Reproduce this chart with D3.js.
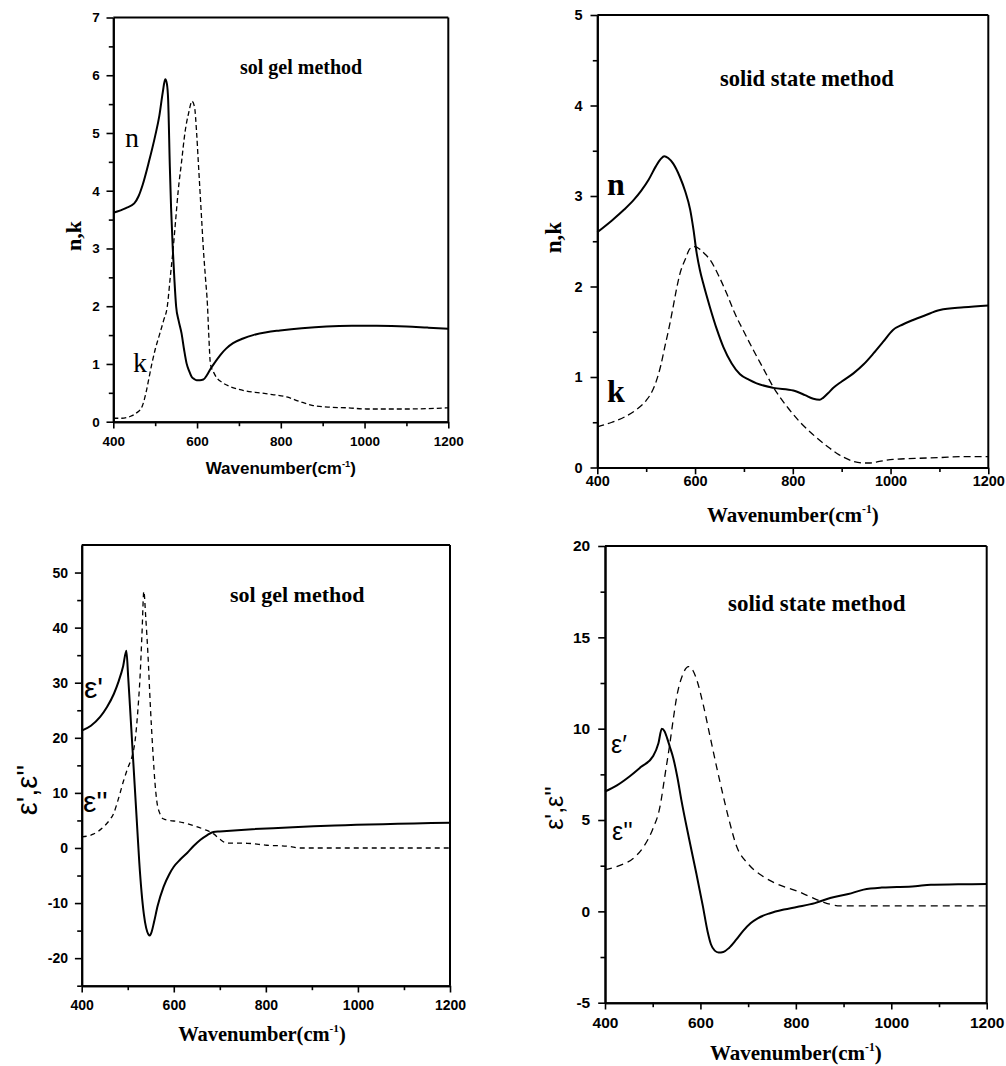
<!DOCTYPE html>
<html>
<head>
<meta charset="utf-8">
<script src="https://cdn.jsdelivr.net/npm/d3@7"></script>
<style>
  body { margin: 0; background: #fff; }
  svg { display: block; }
</style>
</head>
<body>
<svg id="chart" width="1006" height="1066"></svg>
<script>
// ---------- shared axis values ----------
const xTicks = [400, 600, 800, 1000, 1200];
const xMinor = [500, 700, 900, 1100];

// ---------- top left : sol gel, n and k ----------
const sgNWave = [400, 430, 450, 460, 470, 485, 500, 510, 518, 524, 528, 531, 535, 538, 542, 546, 550, 556, 563, 569, 575, 581, 587, 593, 599, 607, 615, 623, 631, 643, 655, 670, 686, 710, 734, 766, 798, 850, 909, 970, 1029, 1100, 1150, 1200];
const sgN = [3.62, 3.7, 3.78, 3.9, 4.1, 4.5, 4.95, 5.3, 5.7, 5.93, 5.85, 5.57, 4.42, 3.7, 3.0, 2.45, 2.0, 1.75, 1.53, 1.25, 1.01, 0.88, 0.78, 0.74, 0.72, 0.72, 0.73, 0.8, 0.9, 1.03, 1.15, 1.27, 1.36, 1.44, 1.5, 1.55, 1.58, 1.62, 1.65, 1.66, 1.66, 1.65, 1.63, 1.61];
const sgKWave = [400, 420, 440, 455, 468, 478, 485, 492, 500, 510, 520, 529, 536, 543, 549, 555, 563, 571, 580, 588, 594, 599, 603, 607, 611, 615, 620, 625, 628, 632, 640, 647, 660, 678, 700, 718, 750, 780, 814, 845, 877, 920, 960, 1005, 1100, 1200];
const sgK = [0.06, 0.06, 0.09, 0.15, 0.25, 0.5, 0.75, 1.0, 1.25, 1.5, 1.75, 2.0, 2.5, 3.0, 3.5, 4.0, 4.5, 5.0, 5.35, 5.55, 5.45, 5.0, 4.5, 4.0, 3.5, 3.0, 2.5, 2.0, 1.5, 1.0, 0.85, 0.76, 0.68, 0.61, 0.56, 0.53, 0.5, 0.47, 0.43, 0.35, 0.28, 0.25, 0.24, 0.22, 0.22, 0.24];
const nkTicksSG = [0, 1, 2, 3, 4, 5, 6, 7];
const nkMinorSG = [0.5, 1.5, 2.5, 3.5, 4.5, 5.5, 6.5];

// ---------- top right : solid state, n and k ----------
const ssNWave = [400, 430, 455, 475, 490, 505, 520, 530, 537, 545, 555, 569, 580, 590, 597, 603, 610, 617, 630, 645, 658, 675, 692, 710, 726, 760, 801, 825, 842, 855, 862, 872, 883, 900, 924, 945, 965, 985, 1005, 1025, 1046, 1070, 1101, 1150, 1200];
const ssN = [2.6, 2.73, 2.85, 2.96, 3.06, 3.18, 3.33, 3.41, 3.44, 3.42, 3.36, 3.21, 3.05, 2.85, 2.62, 2.38, 2.18, 2.03, 1.78, 1.52, 1.33, 1.15, 1.03, 0.97, 0.93, 0.88, 0.85, 0.8, 0.76, 0.75, 0.77, 0.82, 0.88, 0.95, 1.04, 1.14, 1.26, 1.39, 1.52, 1.58, 1.63, 1.68, 1.74, 1.77, 1.79];
const ssKWave = [400, 430, 460, 480, 500, 512, 521, 530, 538, 547, 555, 562, 569, 580, 590, 600, 610, 620, 630, 650, 665, 680, 700, 720, 740, 760, 790, 815, 840, 869, 895, 923, 945, 958, 980, 1005, 1050, 1101, 1150, 1200];
const ssK = [0.45, 0.5, 0.57, 0.64, 0.74, 0.84, 0.96, 1.13, 1.33, 1.55, 1.77, 1.97, 2.14, 2.3, 2.42, 2.44, 2.41, 2.36, 2.3, 2.1, 1.92, 1.72, 1.5, 1.29, 1.09, 0.89, 0.66, 0.5, 0.37, 0.24, 0.14, 0.07, 0.05, 0.05, 0.07, 0.09, 0.1, 0.11, 0.12, 0.12];
const nkTicksSS = [0, 1, 2, 3, 4, 5];
const nkMinorSS = [0.5, 1.5, 2.5, 3.5, 4.5];

// ---------- bottom left : sol gel, eps' and eps'' ----------
const sgE1Wave = [400, 420, 440, 455, 470, 480, 490, 497, 501, 505, 510, 515, 520, 525, 530, 535, 540, 545, 548, 552, 557, 565, 578, 590, 600, 614, 629, 643, 658, 672, 686, 700, 1200];
const sgE1 = [21.3, 22.2, 23.8, 25.6, 28, 30.2, 33, 35.8, 31, 25.5, 18.5, 11.5, 4.5, -2.5, -8, -12, -14.5, -15.7, -15.9, -15.2, -13.5, -10.5, -7, -4.8, -3.4, -2.1, -0.9, 0.35, 1.5, 2.3, 2.9, 3.0, 4.6];
const sgE2Wave = [400, 425, 447, 460, 469, 480, 491, 500, 509, 516, 522, 527, 531, 535, 539, 544, 549, 555, 559, 563, 570, 577, 590, 600, 620, 642, 665, 686, 700, 715, 760, 802, 850, 874, 900, 1200];
const sgE2 = [2.0, 2.5, 3.8, 5.0, 6.2, 9.0, 12.2, 14.5, 16.5, 19.5, 25, 31.5, 39, 46.6, 42, 35, 26, 17, 12, 8.6, 6.2, 5.3, 5.0, 4.9, 4.6, 4.1, 3.4, 2.6, 1.6, 0.9, 0.85, 0.5, 0.3, 0.0, 0.0, 0.0];
const epsTicksSG = [-20, -10, 0, 10, 20, 30, 40, 50];
const epsMinorSG = [-25, -15, -5, 5, 15, 25, 35, 45];

// ---------- bottom right : solid state, eps' and eps'' ----------
const ssE1Wave = [400, 425, 452, 475, 501, 512, 519, 525, 530, 536, 543, 552, 560, 576, 592, 605, 615, 622, 630, 638, 648, 660, 675, 690, 705, 720, 746, 775, 802, 840, 872, 910, 942, 980, 1012, 1050, 1083, 1140, 1200];
const ssE1 = [6.56, 6.9, 7.4, 7.9, 8.5, 9.2, 10, 9.85, 9.5, 9.0, 8.4, 7.3, 6.1, 4.0, 2.0, 0.3, -1.1, -1.8, -2.15, -2.25, -2.22, -2.0, -1.55, -1.05, -0.65, -0.38, -0.1, 0.1, 0.24, 0.45, 0.73, 0.95, 1.19, 1.3, 1.33, 1.38, 1.46, 1.48, 1.5];
const ssE2Wave = [400, 430, 459, 480, 500, 515, 526, 536, 543, 550, 562, 575, 584, 592, 606, 620, 634, 648, 660, 676, 700, 732, 765, 802, 830, 858, 893, 950, 1000, 1100, 1200];
const ssE2 = [2.28, 2.5, 2.9, 3.5, 4.5, 5.7, 7.5, 9.2, 10.5, 11.7, 12.9, 13.4, 13.2, 12.7, 11.3, 9.6, 7.9, 6.3, 5.0, 3.55, 2.6, 1.9, 1.45, 1.12, 0.8, 0.5, 0.3, 0.3, 0.3, 0.3, 0.3];
const epsTicksSS = [-5, 0, 5, 10, 15, 20];
const epsMinorSS = [-2.5, 2.5, 7.5, 12.5, 17.5];

// ---------- fonts ----------
const SANS = "'Liberation Sans', Arial, sans-serif";
const SERIF = "'Liberation Serif', 'Times New Roman', serif";

const zip = (xs, ys) => xs.map((v, i) => [v, ys[i]]);

const panels = [
  {
    box: { l: 113.3, r: 448.3, t: 17.5, b: 421.7 },
    yDomain: [0, 7], yTicks: nkTicksSG, yMinor: nkMinorSG,
    tickFont: 13.5, xPad: 7.5, yPad: 6.7,
    series: [
      { data: zip(sgNWave, sgN), width: 2, dash: null },
      { data: zip(sgKWave, sgK), width: 1.3, dash: "5,3" }
    ],
    method: { text: "sol gel method", x: 240, y: 74, size: 20 },
    xTitle: { font: SANS, size: 17, x: 280.8, y: 474 },
    yTitle: { text: "n,k", font: SERIF, weight: "bold", size: 22, x: 81, y: 236 },
    labels: [
      { text: "n", x: 125, y: 147, size: 28, font: SERIF, weight: "normal" },
      { text: "k", x: 133, y: 372, size: 28, font: SERIF, weight: "normal" }
    ]
  },
  {
    box: { l: 597.3, r: 988.3, t: 15, b: 467.5 },
    yDomain: [0, 5], yTicks: nkTicksSS, yMinor: nkMinorSS,
    tickFont: 14.5, xPad: 1.5, yPad: 8,
    series: [
      { data: zip(ssNWave, ssN), width: 2, dash: null },
      { data: zip(ssKWave, ssK), width: 1.3, dash: "7,4" }
    ],
    method: { text: "solid state method", x: 720, y: 86, size: 22.5 },
    xTitle: { font: SERIF, size: 21, x: 792.8, y: 522 },
    yTitle: { text: "n,k", font: SERIF, weight: "bold", size: 23, x: 561, y: 237.5 },
    labels: [
      { text: "n", x: 607, y: 195, size: 32, font: SERIF, weight: "bold" },
      { text: "k", x: 607, y: 402, size: 32, font: SERIF, weight: "bold" }
    ]
  },
  {
    box: { l: 81.7, r: 450, t: 545, b: 985.7 },
    yDomain: [-25, 55], yTicks: epsTicksSG, yMinor: epsMinorSG,
    tickFont: 14, xPad: 7.5, yPad: 6.8,
    series: [
      { data: zip(sgE1Wave, sgE1), width: 2, dash: null },
      { data: zip(sgE2Wave, sgE2), width: 1.3, dash: "5,4" }
    ],
    method: { text: "sol gel method", x: 230, y: 602, size: 22 },
    xTitle: { font: SERIF, size: 20.5, x: 262, y: 1041 },
    yTitle: { text: "ε',ε''", font: SANS, weight: "normal", size: 29, x: 36.5, y: 790 },
    labels: [
      { text: "ε'", x: 84, y: 698, size: 30, font: SANS, weight: "normal" },
      { text: "ε''", x: 83, y: 812, size: 30, font: SANS, weight: "normal" }
    ]
  },
  {
    box: { l: 605, r: 986.7, t: 546, b: 1002.7 },
    yDomain: [-5, 20], yTicks: epsTicksSS, yMinor: epsMinorSS,
    tickFont: 15.5, xPad: 7.5, yPad: 8,
    series: [
      { data: zip(ssE1Wave, ssE1), width: 2, dash: null },
      { data: zip(ssE2Wave, ssE2), width: 1.3, dash: "7,5" }
    ],
    method: { text: "solid state method", x: 728, y: 611, size: 23 },
    xTitle: { font: SERIF, size: 21, x: 795.8, y: 1060 },
    yTitle: { text: "ε',ε''", font: SANS, weight: "normal", size: 25, x: 563, y: 808 },
    labels: [
      { text: "ε′", x: 611, y: 753, size: 25, font: SANS, weight: "normal" },
      { text: "ε''", x: 612, y: 840, size: 25, font: SANS, weight: "normal" }
    ]
  }
];

const svg = d3.select("#chart");
const plain = d => String(d);   // "1200", "-10" as in the figure

function drawPanel(p) {
  const g = svg.append("g");
  const x = d3.scaleLinear().domain([400, 1200]).range([p.box.l, p.box.r]);
  const y = d3.scaleLinear().domain(p.yDomain).range([p.box.b, p.box.t]);

  // minor ticks
  g.append("g").attr("transform", `translate(0,${p.box.b})`)
    .call(d3.axisBottom(x).tickValues(xMinor).tickSize(4.5).tickSizeOuter(0).tickFormat(""));
  g.append("g").attr("transform", `translate(${p.box.l},0)`)
    .call(d3.axisLeft(y).tickValues(p.yMinor).tickSize(4.5).tickSizeOuter(0).tickFormat(""));

  // major axes
  const xa = g.append("g").attr("transform", `translate(0,${p.box.b})`)
    .call(d3.axisBottom(x).tickValues(xTicks).tickFormat(plain)
      .tickSize(6.8).tickPadding(p.xPad).tickSizeOuter(0));
  const ya = g.append("g").attr("transform", `translate(${p.box.l},0)`)
    .call(d3.axisLeft(y).tickValues(p.yTicks).tickFormat(plain)
      .tickSize(6.8).tickPadding(p.yPad).tickSizeOuter(0));

  g.selectAll(".domain").attr("stroke", "#000").attr("stroke-width", 2);
  g.selectAll(".tick line").attr("stroke", "#000").attr("stroke-width", 1.6);
  [xa, ya].forEach(a => a.selectAll("text")
    .attr("fill", "#000")
    .style("font-family", SANS).style("font-weight", "bold")
    .style("font-size", p.tickFont + "px"));

  // top and right frame
  g.append("line")
    .attr("x1", x(400)).attr("x2", x(1200))
    .attr("y1", y(p.yDomain[1])).attr("y2", y(p.yDomain[1]))
    .attr("stroke", "#000").attr("stroke-width", 2);
  g.append("line")
    .attr("x1", x(1200)).attr("x2", x(1200))
    .attr("y1", y(p.yDomain[0])).attr("y2", y(p.yDomain[1]))
    .attr("stroke", "#000").attr("stroke-width", 2);

  // curves
  const line = d3.line()
    .x(d => x(d[0]))
    .y(d => y(d[1]))
    .curve(d3.curveMonotoneX);
  p.series.forEach(s => {
    g.append("path")
      .attr("d", line(s.data))
      .attr("fill", "none")
      .attr("stroke", "#000")
      .attr("stroke-width", s.width)
      .attr("stroke-dasharray", s.dash)
      .attr("stroke-linejoin", "round");
  });

  // method text
  g.append("text")
    .attr("x", p.method.x).attr("y", p.method.y)
    .style("font-family", SERIF).style("font-weight", "bold")
    .style("font-size", p.method.size + "px")
    .text(p.method.text);

  // x title with superscript
  const xt = g.append("text")
    .attr("x", p.xTitle.x).attr("y", p.xTitle.y)
    .attr("text-anchor", "middle")
    .style("font-family", p.xTitle.font).style("font-weight", "bold")
    .style("font-size", p.xTitle.size + "px");
  xt.append("tspan").text("Wavenumber(cm");
  xt.append("tspan").attr("dy", -p.xTitle.size * 0.42)
    .style("font-size", (p.xTitle.size * 0.55) + "px").text("-1");
  xt.append("tspan").attr("dy", p.xTitle.size * 0.42).text(")");

  // y title
  g.append("text")
    .attr("transform", `translate(${p.yTitle.x},${p.yTitle.y}) rotate(-90)`)
    .attr("text-anchor", "middle")
    .style("font-family", p.yTitle.font).style("font-weight", p.yTitle.weight)
    .style("font-size", p.yTitle.size + "px")
    .text(p.yTitle.text);

  // curve labels
  p.labels.forEach(l => {
    g.append("text")
      .attr("x", l.x).attr("y", l.y)
      .style("font-family", l.font).style("font-weight", l.weight)
      .style("font-size", l.size + "px")
      .text(l.text);
  });
}

panels.forEach(drawPanel);
</script>
</body>
</html>
